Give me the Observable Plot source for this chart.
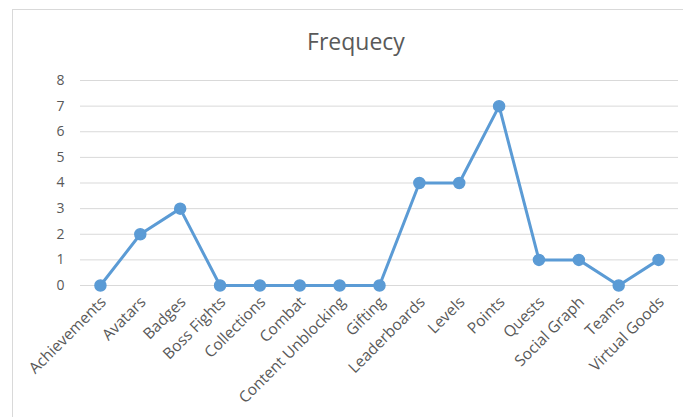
<!DOCTYPE html>
<html>
<head>
<meta charset="utf-8">
<script src="https://cdn.jsdelivr.net/npm/d3@7"></script>
<script src="https://cdn.jsdelivr.net/npm/@observablehq/plot@0.6"></script>
<style>
  html, body { margin: 0; padding: 0; background: #ffffff; }
  #chart {
    position: relative;
    width: 683px;
    height: 417px;
    overflow: hidden;
    font-family: "Open Sans", sans-serif;
  }
  #frame {
    position: absolute;
    left: 12px;
    top: 9px;
    width: 700px;
    height: 440px;
    border: 1px solid #d9d9d9;
    box-sizing: border-box;
  }
  #title {
    position: absolute;
    left: 0;
    top: 25px;
    width: 712px;
    text-align: center;
    font-size: 23px;
    color: #595959;
    line-height: 32px;
  }
  #plot { position: absolute; left: 0; top: 60px; }
</style>
</head>
<body>
<div id="chart">
  <div id="frame"></div>
  <div id="title">Frequecy</div>
  <div id="plot"></div>
</div>
<script>
// Game mechanics and how often each one appears
const categories = [
  "Achievements", "Avatars", "Badges", "Boss Fights", "Collections",
  "Combat", "Content Unblocking", "Gifting", "Leaderboards", "Levels",
  "Points", "Quests", "Social Graph", "Teams", "Virtual Goods"
];
const frequency = [0, 2, 3, 0, 0, 0, 0, 0, 4, 4, 7, 1, 1, 0, 1];
const yTicks = [0, 1, 2, 3, 4, 5, 6, 7, 8];

const rows = categories.map((name, i) => ({name, value: frequency[i]}));
const blue = "#5b9bd5";

const chart = Plot.plot({
  width: 683,
  height: 357,
  marginLeft: 80,
  marginRight: 5,
  marginTop: 20,
  marginBottom: 132,
  style: {fontFamily: "'Open Sans', sans-serif", fontSize: "13px", color: "#595959", background: "transparent"},
  x: {type: "point", domain: categories, padding: 0.5, round: false, label: null},
  y: {domain: [0, 8], label: null},
  marks: [
    Plot.gridY(yTicks, {stroke: "#d9d9d9", strokeOpacity: 1, strokeWidth: 1}),
    Plot.axisY(yTicks, {tickSize: 0, tickPadding: 16, label: null, fontSize: 14}),
    Plot.axisX({tickSize: 0, tickRotate: -45, tickPadding: 9, dx: 3, dy: 5, label: null, fontSize: 15.5}),
    Plot.lineY(rows, {x: "name", y: "value", stroke: blue, strokeWidth: 3}),
    Plot.dot(rows, {x: "name", y: "value", r: 5.5, fill: blue, stroke: blue})
  ]
});
document.getElementById("plot").appendChild(chart);
</script>
</body>
</html>
